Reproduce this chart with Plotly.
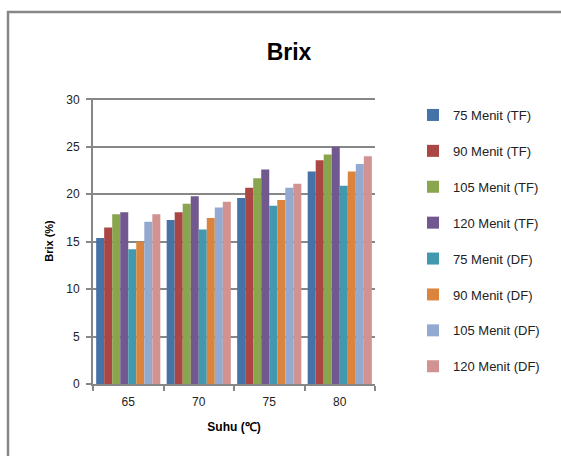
import plotly.graph_objects as go

categories = ["65", "70", "75", "80"]
series_names = ["75 Menit (TF)", "90 Menit (TF)", "105 Menit (TF)", "120 Menit (TF)",
                "75 Menit (DF)", "90 Menit (DF)", "105 Menit (DF)", "120 Menit (DF)"]
v75_tf = [15.4, 17.3, 19.6, 22.4]
v90_tf = [16.5, 18.1, 20.7, 23.6]
v105_tf = [17.9, 19.0, 21.7, 24.2]
v120_tf = [18.1, 19.8, 22.6, 25.0]
v75_df = [14.2, 16.3, 18.8, 20.9]
v90_df = [15.0, 17.5, 19.4, 22.4]
v105_df = [17.1, 18.6, 20.7, 23.2]
v120_df = [17.9, 19.2, 21.1, 24.0]
series_values = [v75_tf, v90_tf, v105_tf, v120_tf, v75_df, v90_df, v105_df, v120_df]
colors = ["#4572A7", "#AA4643", "#89A54E", "#71588F", "#4198AF", "#DB843D", "#93A9CF", "#D19392"]
y_ticks = [0, 5, 10, 15, 20, 25, 30]

FONT = "Liberation Sans, Arial, sans-serif"
W, H = 561, 456
L, R, T, B = 93, 186, 98, 72
pw, ph = W - L - R, H - T - B

def px_x(x):
    return (x - L) / pw

def px_y(y):
    return (H - B - y) / ph

fig = go.Figure()
for i, (name, vals) in enumerate(zip(series_names, series_values)):
    fig.add_trace(go.Bar(x=categories, y=vals, name=name, marker_color=colors[i],
                         marker_line_width=0, legendgroup=f"g{i}"))

fig.update_layout(
    width=W, height=H, autosize=False,
    margin=dict(l=L, r=R, t=T, b=B, pad=0),
    paper_bgcolor="white", plot_bgcolor="white",
    font=dict(family=FONT, color="#222222", size=12),
    barmode="group", bargap=0.09, bargroupgap=0,
    title=dict(text="<b>Brix</b>", x=px_x(289), xref="paper", xanchor="center",
               y=1 - 52 / H, yanchor="middle", font=dict(size=23, color="black")),
    showlegend=True,
    legend=dict(x=px_x(413), y=px_y(100), xanchor="left", yanchor="top",
                font=dict(size=13, color="#222222"), tracegroupgap=16,
                itemwidth=30, bgcolor="rgba(0,0,0,0)", maxheight=450),
    xaxis=dict(showline=True, linecolor="#878787", linewidth=2,
               ticks="outside", tickson="boundaries", ticklen=5, tickcolor="#878787", tickwidth=2,
               tickfont=dict(size=12, color="#222222"), ticklabelstandoff=6,
               title=dict(text="<b>Suhu (℃)</b>", font=dict(size=12, color="black"), standoff=14)),
    yaxis=dict(range=[0, 30.15], tickvals=y_ticks, showline=True, linecolor="#878787", linewidth=2,
               showgrid=True, gridcolor="#878787", gridwidth=2,
               ticks="outside", ticklen=5, tickcolor="#878787", tickwidth=2,
               tickfont=dict(size=12, color="#222222"), zeroline=False, ticklabelstandoff=4,
               title=dict(text="<b>Brix (%)</b>", font=dict(size=11, color="black"), standoff=10)),
)

# chart frame: top and left edges (the rest lies outside the picture)
fig.add_shape(type="line", xref="paper", yref="paper",
              x0=px_x(7), x1=px_x(565), y0=px_y(12), y1=px_y(12),
              line=dict(color="#878787", width=2.5), layer="below")
fig.add_shape(type="line", xref="paper", yref="paper",
              x0=px_x(8), x1=px_x(8), y0=px_y(11), y1=px_y(460),
              line=dict(color="#878787", width=2.5), layer="below")

fig.write_html("out.html", config={"displayModeBar": False},
               post_script="document.body.style.margin='0';document.body.style.overflow='hidden';"
                           "document.documentElement.style.overflow='hidden';")
